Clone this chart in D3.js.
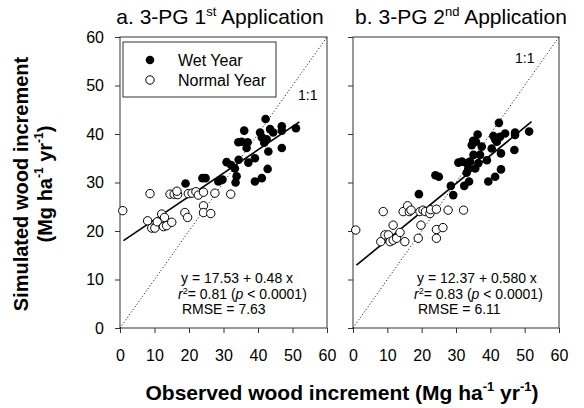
<!DOCTYPE html>
<html><head><meta charset="utf-8">
<script src="https://cdn.jsdelivr.net/npm/d3@7"></script>
<style>body{margin:0;background:#fff}svg{display:block;font-family:Arial,"Liberation Sans",sans-serif}</style>
</head><body>
<script>
const xTicks = [0,10,20,30,40,50,60];
const yTicks = [0,10,20,30,40,50,60];

// Panel a: 3-PG 1st application
const normalA = [[0.8,24.2],[8.7,27.7],[14.5,27.6],[15.7,27.6],[16.7,27.5],[16.5,28.2],[19.8,27.7],[20.9,27.8],[22.0,28.1],[22.7,27.4],[24.2,28.0],[27.5,27.8],[32.1,27.6],
 [8.0,22.1],[9.2,20.6],[10.1,20.6],[10.8,21.9],[12.1,23.5],[12.9,22.8],[12.6,20.9],[13.5,21.1],[15.0,21.8],[18.8,23.8],[19.6,22.8],[24.2,25.2],[24.2,23.8],[26.3,23.6]];
const wetA = [[19.0,29.8],[23.9,30.9],[24.8,30.9],[28.5,30.2],[29.7,30.6],[30.9,34.2],[32.2,33.6],[33.3,32.9],[33.8,31.3],[33.5,30.0],[34.4,34.7],[37.2,34.1],[39.1,35.0],[39.1,30.2],[41.1,30.9],[42.8,32.8],[43.0,36.4],[34.3,38.3],[35.3,38.4],[36.7,37.1],[37.0,38.3],[36.0,40.7],[42.2,43.1],[40.6,40.3],[41.1,39.3],[41.8,38.2],[42.5,38.9],[43.5,41.0],[44.4,40.3],[46.9,41.6],[46.9,40.7],[51.0,41.2],[46.9,37.1]];
const fitA = {a:17.53, b:0.48, x0:1, x1:52};

// Panel b: 3-PG 2nd application
const normalB = [[0.8,20.2],[8.8,24.0],[11.7,21.2],[8.1,17.8],[9.3,19.2],[10.3,19.2],[10.8,17.8],[11.7,18.1],[12.7,18.5],[13.7,19.7],[15.1,17.8],[14.6,24.0],[15.9,25.2],[16.4,24.0],[16.9,24.3],[19.5,24.0],[20.4,24.3],[21.1,24.0],[22.4,23.6],[22.6,24.4],[24.3,24.5],[27.7,24.3],[32.2,24.3],[19.8,21.2],[19.0,18.5],[24.3,20.3],[24.3,18.5],[26.2,20.7]];
const wetB = [[19.2,27.6],[24.0,31.5],[25.0,31.2],[28.5,29.3],[29.2,27.4],[30.7,34.1],[31.7,34.3],[33.1,34.0],[34.1,34.3],[36.5,34.0],[35.6,32.9],[33.6,32.9],[33.1,32.0],[33.8,30.2],[39.4,30.2],[41.4,31.2],[43.1,32.7],[32.4,29.3],[35.1,35.7],[37.0,35.7],[39.0,34.6],[40.4,37.0],[43.1,36.0],[47.0,36.7],[34.6,37.7],[35.0,38.6],[35.8,38.4],[37.5,37.4],[36.3,39.9],[42.5,42.3],[40.9,39.6],[41.4,38.9],[41.9,38.4],[42.8,39.4],[44.3,40.1],[47.2,40.3],[47.2,39.8],[51.3,40.5]];
const fitB = {a:12.37, b:0.580, x0:1, x1:52};

const W = 584, H = 408;
const svg = d3.select("body").append("svg").attr("width", W).attr("height", H);

const plotTop = 37, plotBottom = 328;
const panels = [
  {left:120, right:327, normal:normalA, wet:wetA, fit:fitA, labels:true, title:["a. 3-PG 1","st"," Application"], titleX:220,
   eq:["y = 17.53 + 0.48 x","= 0.81 (","< 0.0001)","RMSE = 7.63"], eqx:181, oneX:298, oneY:100, legend:true},
  {left:353, right:559, normal:normalB, wet:wetB, fit:fitB, labels:false, title:["b. 3-PG 2","nd"," Application"], titleX:461,
   eq:["y = 12.37 + 0.580 x","= 0.83 (","< 0.0001)","RMSE = 6.11"], eqx:417, oneX:515, oneY:63, legend:false}
];

panels.forEach(p => {
  const x = d3.scaleLinear().domain([0,60]).range([p.left, p.right]);
  const y = d3.scaleLinear().domain([0,60]).range([plotBottom, plotTop]);
  const g = svg.append("g");

  g.append("rect").attr("x", p.left).attr("y", plotTop).attr("width", p.right-p.left).attr("height", plotBottom-plotTop)
    .attr("fill","none").attr("stroke","#333").attr("stroke-width",1);

  const ax = g.append("g").attr("transform",`translate(0,${plotBottom})`)
    .call(d3.axisBottom(x).tickValues(xTicks).tickSize(5).tickSizeOuter(0).tickPadding(17));
  const ay = g.append("g").attr("transform",`translate(${p.left},0)`)
    .call(d3.axisLeft(y).tickValues(yTicks).tickSize(5).tickSizeOuter(0).tickPadding(11)
      .tickFormat(p.labels ? d3.format("d") : () => ""));
  [ax, ay].forEach(a => {
    a.select(".domain").remove();
    a.selectAll("line").attr("stroke","#333");
    a.selectAll("text").attr("font-size",16).attr("fill","#000").attr("font-family","Arial, 'Liberation Sans', sans-serif");
  });

  g.append("line").attr("x1",x(0)).attr("y1",y(0)).attr("x2",x(60)).attr("y2",y(60))
    .attr("stroke","#000").attr("stroke-width",1).attr("stroke-dasharray","1,2.2");
  g.append("text").attr("x",p.oneX).attr("y",p.oneY).attr("font-size",14).text("1:1");

  g.append("line").attr("x1",x(p.fit.x0)).attr("y1",y(p.fit.a+p.fit.b*p.fit.x0))
    .attr("x2",x(p.fit.x1)).attr("y2",y(p.fit.a+p.fit.b*p.fit.x1))
    .attr("stroke","#000").attr("stroke-width",1.6);

  g.selectAll("circle.n").data(p.normal).join("circle").attr("class","n")
    .attr("cx",d=>x(d[0])).attr("cy",d=>y(d[1])).attr("r",4.2)
    .attr("fill","#fff").attr("stroke","#000").attr("stroke-width",1);
  g.selectAll("circle.w").data(p.wet).join("circle").attr("class","w")
    .attr("cx",d=>x(d[0])).attr("cy",d=>y(d[1])).attr("r",4.3).attr("fill","#000");

  const t = svg.append("text").attr("x",p.titleX).attr("y",24).attr("text-anchor","middle").attr("font-size",21);
  t.append("tspan").text(p.title[0]);
  t.append("tspan").attr("font-size",13).attr("dy",-8).text(p.title[1]);
  t.append("tspan").attr("dy",8).text(p.title[2]);

  const e = g.append("g").attr("font-size",14);
  e.append("text").attr("x",p.eqx).attr("y",283).text(p.eq[0]);
  const r = e.append("text").attr("x",p.eqx-3).attr("y",299);
  r.append("tspan").attr("font-style","italic").text("r");
  r.append("tspan").attr("font-size",9).attr("dy",-5).text("2");
  r.append("tspan").attr("dy",5).text(p.eq[1]);
  r.append("tspan").attr("font-style","italic").text("p");
  r.append("tspan").text(" " + p.eq[2]);
  e.append("text").attr("x",p.eqx+1).attr("y",314).text(p.eq[3]);

  if (p.legend) {
    g.append("rect").attr("x",123).attr("y",42).attr("width",153).attr("height",55)
      .attr("fill","#fff").attr("stroke","#333").attr("stroke-width",1);
    g.append("circle").attr("cx",150).attr("cy",60).attr("r",4.3).attr("fill","#000");
    g.append("circle").attr("cx",150).attr("cy",80).attr("r",4.2).attr("fill","#fff").attr("stroke","#000");
    g.append("text").attr("x",178).attr("y",66).attr("font-size",16).text("Wet Year");
    g.append("text").attr("x",178).attr("y",86).attr("font-size",16).text("Normal Year");
  }
});

const xt = svg.append("text").attr("x",342).attr("y",400).attr("text-anchor","middle")
  .attr("font-size",21).attr("font-weight","bold");
xt.append("tspan").text("Observed wood increment (Mg ha");
xt.append("tspan").attr("font-size",13).attr("dy",-9).text("-1");
xt.append("tspan").attr("dy",9).text(" yr");
xt.append("tspan").attr("font-size",13).attr("dy",-9).text("-1");
xt.append("tspan").attr("dy",9).text(")");

const yt = svg.append("g").attr("transform","translate(28,184) rotate(-90)")
  .attr("font-size",20).attr("font-weight","bold").attr("text-anchor","middle");
yt.append("text").attr("x",0).attr("y",0).text("Simulated wood increment");
const y2 = yt.append("text").attr("x",0).attr("y",24);
y2.append("tspan").text("(Mg ha");
y2.append("tspan").attr("font-size",12).attr("dy",-9).text("-1");
y2.append("tspan").attr("dy",9).text(" yr");
y2.append("tspan").attr("font-size",12).attr("dy",-9).text("-1");
y2.append("tspan").attr("dy",9).text(")");
</script>
</body></html>
